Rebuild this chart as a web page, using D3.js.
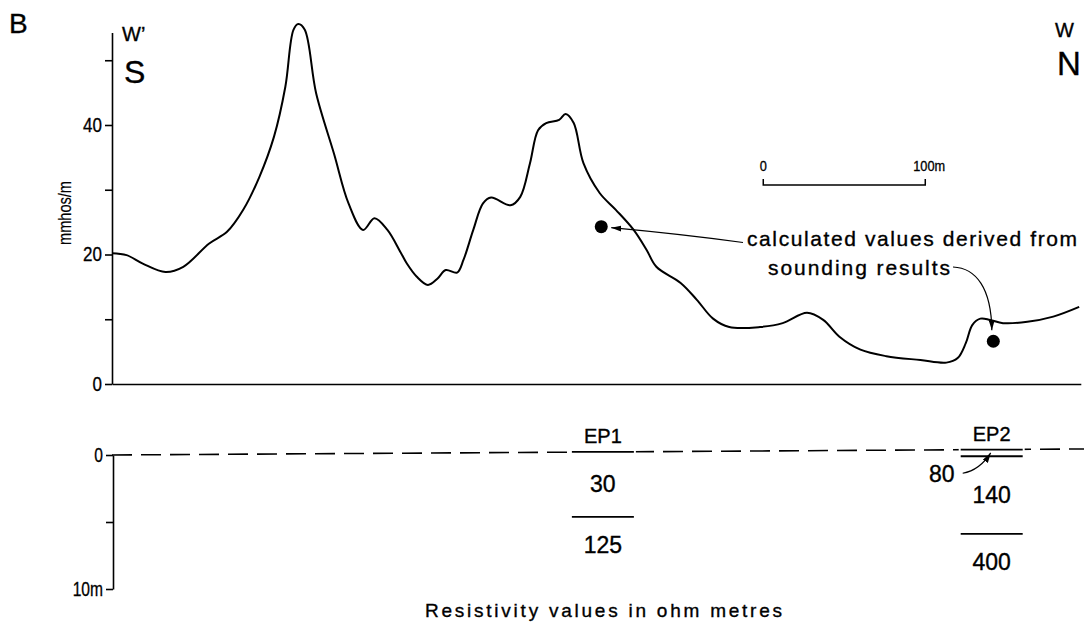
<!DOCTYPE html>
<meta charset="utf-8">
<style>
body { margin: 0; background: #fff; }
text { font-family: "Liberation Sans", Arial, sans-serif; fill: #000; stroke: #000; stroke-width: 0.35px; }
.axis path, .axis line { stroke: #000; stroke-width: 1.6px; }
.axis text { font-size: 20px; fill: #000; stroke-width: 0.3px; }
.profile { fill: none; stroke: #000; stroke-width: 2px; }
.ground { fill: none; stroke: #000; stroke-width: 1.6px; stroke-dasharray: 20, 9; }
.layer { stroke: #000; stroke-width: 1.8px; }
.arrow { fill: none; stroke: #000; stroke-width: 1.2px; }
</style>
<svg width="1089" height="623"></svg>
<script src="https://d3js.org/d3.v7.min.js"></script>
<script>
var svg = d3.select("svg");

// conductivity profile along the line: distance (m) and mmhos/m
var distance = [0, 9, 19, 33, 44, 60, 71, 81, 91, 100, 107, 112, 115, 119, 126,
  137, 146, 155, 162, 170, 178, 182, 188, 195, 201, 206, 213, 217, 223, 229,
  234, 246, 252, 258, 263, 268, 276, 280, 285, 291, 301, 311, 322, 330, 336,
  351, 361, 371, 381, 400, 414, 429, 439, 449, 462, 478, 499, 515, 522, 527,
  531, 536, 542, 550, 565, 581, 597];
var conductivity = [20.2, 19.9, 18.6, 17.3, 18.1, 21.7, 23.5, 26.9, 32.0, 38.2, 45.9, 54.7, 55.6, 54.7, 44.9,
  35.6, 27.9, 23.8, 25.6, 23.8, 20.4, 18.6, 16.6, 15.3, 16.3, 17.6, 17.2, 19.2, 23.8, 27.9,
  28.8, 27.6, 28.9, 34.1, 39.2, 40.3, 40.8, 41.7, 40.3, 34.1, 29.5, 26.9, 23.8, 20.7, 18.1,
  15.6, 13.0, 10.1, 8.8, 8.8, 9.4, 11.0, 9.9, 7.3, 5.3, 4.3, 3.7, 3.3, 4.0, 6.3,
  9.1, 10.1, 9.9, 9.4, 9.6, 10.4, 11.9];

// values calculated from the soundings
var calcDist = [302, 544];
var calcValue = [24.3, 6.6];

// electrical soundings: layer boundaries (m below ground) and resistivities (ohm m)
var siteNames = ["EP1", "EP2"];
var siteDist = [303, 543];
var siteBounds = [[4.85], [0.5, 6.3]];
var siteRes = [[30, 125], [80, 140, 400]];

// ground surface in the section, m relative to datum
var groundDist = [0, 600];
var groundLevel = [0, -0.45];

var condTicks = [0, 10, 20, 30, 40, 50];
var condLabels = ["0", "", "20", "", "40", ""];
var depthTicks = [0, 5, 10];
var depthLabels = ["0", "", "10m"];

var scaleBar = [402, 502];

var x = d3.scaleLinear().domain([0, 598]).range([112, 1080.8]);
var y = d3.scaleLinear().domain([0, 54.3]).range([384, 32.4]);
var depth = d3.scaleLinear().domain([0, 10]).range([455, 589]);
var ground = d3.scaleLinear().domain(groundDist).range(groundLevel);

// squeeze a label horizontally, the source uses a condensed face
function narrow(sel, k) {
  sel.each(function() {
    var w = this.getComputedTextLength();
    if (w > 0) d3.select(this).attr("textLength", w * k).attr("lengthAdjust", "spacingAndGlyphs");
  });
}

svg.append("defs").append("marker")
    .attr("id", "ah")
    .attr("viewBox", "0 0 10 6")
    .attr("refX", 10).attr("refY", 3)
    .attr("markerWidth", 10).attr("markerHeight", 6)
    .attr("markerUnits", "userSpaceOnUse")
    .attr("orient", "auto")
  .append("path").attr("d", "M0,0L10,3L0,6z");

// ---- upper panel: conductivity ----
var yAxis = svg.append("g").attr("class", "axis")
    .attr("transform", "translate(" + x(0) + ",0)")
    .call(d3.axisLeft(y).tickValues(condTicks)
      .tickFormat(function(d, i) { return condLabels[i]; })
      .tickSize(7).tickPadding(3).tickSizeOuter(0));
narrow(yAxis.selectAll("text"), 0.85);

svg.append("g").attr("class", "axis")
    .attr("transform", "translate(0," + y(0) + ")")
    .call(d3.axisBottom(x).tickValues([]).tickSizeOuter(0));

svg.append("text")
    .attr("transform", "translate(71,213) rotate(-90)")
    .attr("text-anchor", "middle")
    .style("font-size", "18px").style("stroke-width", "0.2px")
    .attr("textLength", 64).attr("lengthAdjust", "spacingAndGlyphs")
    .text("mmhos/m");

var pts = distance.map(function(d, i) { return [d, conductivity[i]]; });
svg.append("path").attr("class", "profile")
    .attr("d", d3.line()
      .x(function(d) { return x(d[0]); })
      .y(function(d) { return y(d[1]); })
      .curve(d3.curveCatmullRom.alpha(0.5))(pts));

svg.selectAll(".calc").data(calcDist).enter().append("circle")
    .attr("class", "calc")
    .attr("cx", function(d) { return x(d); })
    .attr("cy", function(d, i) { return y(calcValue[i]); })
    .attr("r", 6.5)
    .attr("fill", "#000");

// scale bar
var sb = svg.append("g");
sb.append("path").attr("fill", "none").attr("stroke", "#000").attr("stroke-width", 1.5)
    .attr("d", "M" + x(scaleBar[0]) + ",179V185H" + x(scaleBar[1]) + "V179");
sb.append("text").attr("x", x(scaleBar[0])).attr("y", 171)
    .attr("text-anchor", "middle").style("font-size", "15px").text("0");
sb.append("text").attr("x", x(scaleBar[1]) - 12).attr("y", 171)
    .style("font-size", "15px").text("100m");
narrow(sb.selectAll("text"), 0.85);

// direction labels
svg.append("text").attr("x", 9).attr("y", 33).style("font-size", "28px").text("B");
svg.append("text").attr("x", 122).attr("y", 41).style("font-size", "20px").text("W’");
svg.append("text").attr("x", 124).attr("y", 83).style("font-size", "32px").text("S");
svg.append("text").attr("x", 1055).attr("y", 37).style("font-size", "20px").text("W");
svg.append("text").attr("x", 1057).attr("y", 75).style("font-size", "33px").text("N");

// annotation
svg.append("text").attr("x", 747).attr("y", 246).style("font-size", "21px")
    .attr("textLength", 330).attr("lengthAdjust", "spacing")
    .text("calculated values derived from");
svg.append("text").attr("x", 768).attr("y", 275).style("font-size", "21px")
    .attr("textLength", 182).attr("lengthAdjust", "spacing")
    .text("sounding results");

var c1 = [x(calcDist[0]), y(calcValue[0])];
var c2 = [x(calcDist[1]), y(calcValue[1])];
svg.append("path").attr("class", "arrow").attr("marker-end", "url(#ah)")
    .attr("d", "M743,242.5Q680,234 " + (c1[0] + 10) + "," + (c1[1] + 1));
svg.append("path").attr("class", "arrow").attr("marker-end", "url(#ah)")
    .attr("d", "M953,267C976,268 " + (c2[0] - 2) + ",288 " + (c2[0] - 1.5) + "," + (c2[1] - 11));

// ---- lower panel: resistivity section ----
var dAxis = svg.append("g").attr("class", "axis")
    .attr("transform", "translate(" + (x(0) + 1) + ",0)")
    .call(d3.axisLeft(depth).tickValues(depthTicks)
      .tickFormat(function(d, i) { return depthLabels[i]; })
      .tickSize(7).tickPadding(3).tickSizeOuter(0));
narrow(dAxis.selectAll("text"), 0.78);

svg.append("path").attr("class", "ground")
    .attr("d", d3.line()
      .x(function(d) { return x(d); })
      .y(function(d) { return depth(ground(d)); })(groundDist));

siteNames.forEach(function(name, i) {
  var cx = x(siteDist[i]);
  var g0 = ground(siteDist[i]);
  var bounds = [0].concat(siteBounds[i]);
  var g = svg.append("g");

  g.append("rect").attr("x", cx - 33).attr("y", depth(g0) - 3).attr("width", 66).attr("height", 6).attr("fill", "#fff");
  g.append("text").attr("x", cx).attr("y", depth(g0) - 9)
      .attr("text-anchor", "middle").style("font-size", "20px").text(name);

  g.selectAll("line").data(bounds).enter().append("line")
      .attr("class", "layer")
      .attr("x1", cx - 31).attr("x2", cx + 31)
      .attr("y1", function(b) { return depth(g0 + b); })
      .attr("y2", function(b) { return depth(g0 + b); });

  siteRes[i].forEach(function(r, j) {
    var top = bounds[j], bot = bounds[j + 1];
    var t = g.append("text").attr("text-anchor", "middle").style("font-size", "23px").text(r);
    if (bot === undefined) {
      t.attr("x", cx).attr("y", depth(g0 + top) + 36);
    } else if (bot - top < 1) {
      var ly = depth(g0 + bot) + 26;
      t.attr("x", cx - 50).attr("y", ly);
      g.append("path").attr("class", "arrow").attr("marker-end", "url(#ah)")
          .attr("d", "M" + (cx - 29) + "," + (ly - 9) + "Q" + (cx - 12) + "," + (ly - 12) + " " + (cx - 1) + "," + depth(g0 + (top + bot) / 2));
    } else {
      t.attr("x", cx).attr("y", (depth(g0 + top) + depth(g0 + bot)) / 2 + 8);
    }
  });
});

svg.append("text").attr("x", 425).attr("y", 617).style("font-size", "19px")
    .attr("textLength", 357).attr("lengthAdjust", "spacing")
    .text("Resistivity values in ohm metres");
</script>
